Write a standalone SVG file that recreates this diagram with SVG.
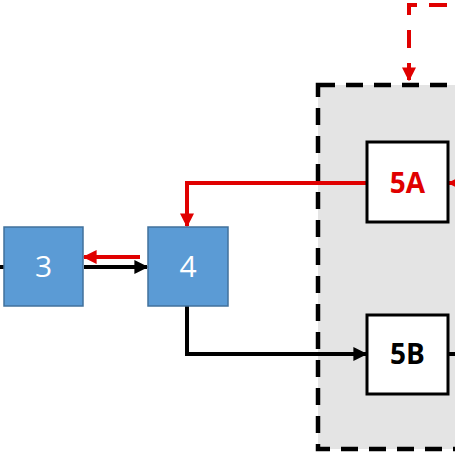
<svg xmlns="http://www.w3.org/2000/svg" width="455" height="455" viewBox="0 0 455 455">
<defs>
<style>
.blue{fill:#5b9bd5;stroke:#41719c;stroke-width:1.5}
.white{fill:#fff;stroke:#000;stroke-width:3}
.bt{font-family:"Open Sans","Liberation Sans",sans-serif;font-size:30px;fill:#fff;text-anchor:middle}
.wt{font-family:"Open Sans","Liberation Sans",sans-serif;font-size:28px;font-weight:bold;text-anchor:middle}
.blk{fill:none;stroke:#000;stroke-width:4}
.red{fill:none;stroke:#e00000;stroke-width:4}
</style>
<marker id="ab" viewBox="0 0 10 10" refX="9" refY="5" markerWidth="3.5" markerHeight="3.5" orient="auto" markerUnits="strokeWidth"><path d="M0,0L10,5L0,10z" fill="#000"/></marker>
<marker id="ar" viewBox="0 0 10 10" refX="9" refY="5" markerWidth="3.5" markerHeight="3.5" orient="auto" markerUnits="strokeWidth"><path d="M0,0L10,5L0,10z" fill="#e00000"/></marker>
</defs>
<g id="container5">
<rect x="318" y="85" width="160" height="364" fill="#e4e4e4" stroke="#000" stroke-width="4.5" stroke-dasharray="17 11"/>
</g>
<g id="connectors">
<path class="red" d="M417,5H409V15M409,30V48M429,5H447"/>
<path class="red" d="M409,63V80" marker-end="url(#ar)"/>
<path class="red" d="M367,183H187V226" marker-end="url(#ar)"/>
<path class="red" d="M460,183H449" marker-end="url(#ar)"/>
<path class="red" d="M140,257H84" marker-end="url(#ar)"/>
<path class="blk" d="M84,267H147" marker-end="url(#ab)"/>
<path class="blk" d="M0,267H4"/>
<path class="blk" d="M187,306V354H366" marker-end="url(#ab)"/>
<path class="blk" d="M448,354H460"/>
</g>
<g id="node3">
<rect class="blue" x="4" y="227" width="79" height="79"/>
<text class="bt" x="43.5" y="277">3</text>
</g>
<g id="node4">
<rect class="blue" x="148" y="227" width="80" height="79"/>
<text class="bt" x="188" y="277">4</text>
</g>
<g id="node5A">
<rect class="white" x="367" y="142" width="81" height="80"/>
<text class="wt" x="407.5" y="193" fill="#e00000">5A</text>
</g>
<g id="node5B">
<rect class="white" x="367" y="315" width="81" height="79"/>
<text class="wt" x="407.5" y="364" fill="#000">5B</text>
</g>
</svg>
